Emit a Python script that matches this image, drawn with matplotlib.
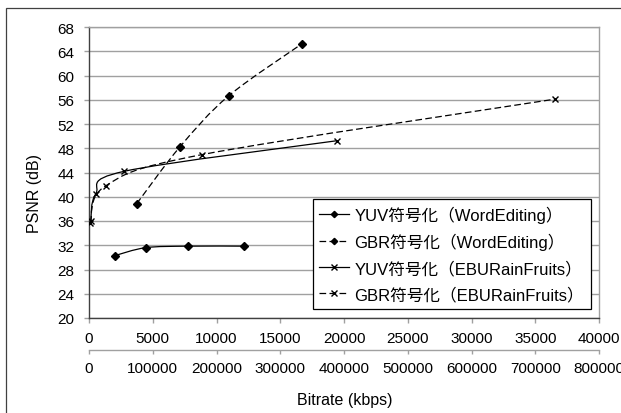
import matplotlib
matplotlib.use('Agg')
import matplotlib.pyplot as plt
from matplotlib.path import Path
from matplotlib.patches import PathPatch, Rectangle
from matplotlib.lines import Line2D
import numpy as np

plt.rcParams['font.family'] = ['Liberation Sans', 'Noto Sans CJK JP']
plt.rcParams['lines.scale_dashes'] = False

# WordEditing (lower bitrate axis, kbps)
word_yuv_rate = [2040, 4450, 7740, 12180]
word_yuv_psnr = [30.3, 31.6, 31.85, 31.85]
word_gbr_rate = [3740, 7140, 10960, 16680]
word_gbr_psnr = [38.85, 48.25, 56.65, 65.2]

# EBURainFruits (second bitrate axis, kbps)
ebu_yuv_rate = [2700, 10500, 55400, 389500]
ebu_yuv_psnr = [36.05, 40.45, 44.2, 49.25]
ebu_gbr_rate = [2350, 26200, 177300, 731000]
ebu_gbr_psnr = [35.75, 41.8, 46.95, 56.1]

labels = ['YUV符号化（WordEditing）', 'GBR符号化（WordEditing）',
          'YUV符号化（EBURainFruits）', 'GBR符号化（EBURainFruits）']

W, H = 621, 414
DASH = (0, (4.8, 2.4))


def smooth_path(xs, ys):
    # excel-like smoothed line: catmull-rom segments as cubic beziers
    p = np.column_stack([xs, ys]).astype(float)
    n = len(p)
    verts = [p[0]]
    codes = [Path.MOVETO]
    for i in range(n - 1):
        p0 = p[i - 1] if i > 0 else p[i]
        p3 = p[i + 2] if i + 2 < n else p[i + 1]
        c1 = p[i] + (p[i + 1] - p0) / 6.0
        c2 = p[i + 1] - (p3 - p[i]) / 6.0
        verts += [c1, c2, p[i + 1]]
        codes += [Path.CURVE4] * 3
    return Path(verts, codes)


def draw_series(ax, xs, ys, ls, marker, ms):
    ax.add_patch(PathPatch(smooth_path(xs, ys), fill=False, edgecolor='black',
                           lw=0.9, linestyle=ls, transform=ax.transData,
                           clip_on=True, zorder=3))
    ax.plot(xs, ys, linestyle='none', marker=marker, color='black',
            markersize=ms, markeredgewidth=1.0, zorder=4)


fig = plt.figure(figsize=(W / 100, H / 100), dpi=100)
left, right, top, bottom = 89, 599, 28, 319
ax = fig.add_axes([left / W, 1 - bottom / H, (right - left) / W, (bottom - top) / H])

# outer chart frame
fig.patches.append(Rectangle((6 / W, -0.2), 1.5, 1 - 9 / H + 0.2, fill=False,
                             edgecolor='#404040', lw=0.9,
                             transform=fig.transFigure, figure=fig))

ax.set_xlim(0, 40000)
ax.set_ylim(20, 68)
ax.set_xticks(np.arange(0, 40001, 5000))
ax.set_yticks(np.arange(20, 69, 4))
ax.grid(axis='y', color='#a0a0a0', lw=1.0)
ax.set_axisbelow(True)
for s in ['top', 'right']:
    ax.spines[s].set_color('#a0a0a0')
    ax.spines[s].set_linewidth(1.0)
for s in ['left', 'bottom']:
    ax.spines[s].set_color('#404040')
    ax.spines[s].set_linewidth(1.0)
ax.tick_params(axis='both', direction='out', length=3.6, width=1.0,
               color='#a0a0a0', labelsize=11)
ax.tick_params(axis='x', pad=5.8)
ax.tick_params(axis='y', pad=7)

ax2 = ax.twiny()
ax2.set_xlim(0, 800000)
ax2.set_xticks(np.arange(0, 800001, 100000))
ax2.xaxis.set_ticks_position('bottom')
ax2.xaxis.set_label_position('bottom')
ax2.spines['bottom'].set_position(('outward', 32 * 72 / 100))
for s in ['top', 'right', 'left']:
    ax2.spines[s].set_visible(False)
ax2.spines['bottom'].set_color('#a0a0a0')
ax2.spines['bottom'].set_linewidth(1.0)
ax2.patch.set_visible(False)
ax2.tick_params(axis='x', direction='out', length=3.2, width=1.0,
                color='#a0a0a0', labelsize=11, pad=5)

draw_series(ax, word_yuv_rate, word_yuv_psnr, '-', 'D', 4.0)
draw_series(ax, word_gbr_rate, word_gbr_psnr, DASH, 'D', 4.0)
draw_series(ax2, ebu_yuv_rate, ebu_yuv_psnr, '-', 'x', 5)
draw_series(ax2, ebu_gbr_rate, ebu_gbr_psnr, DASH, 'x', 5)

fig.text(34 / W, 1 - 193.5 / H, 'PSNR (dB)', rotation=90, fontsize=11.5,
         ha='center', va='center')
fig.text(345 / W, 1 - 401 / H, 'Bitrate (kbps)', fontsize=11.5,
         ha='center', va='center')

handles = [
    Line2D([], [], color='black', lw=0.9, ls='-', marker='D', markersize=3.2),
    Line2D([], [], color='black', lw=0.9, ls=DASH, marker='D', markersize=3.2),
    Line2D([], [], color='black', lw=0.9, ls='-', marker='x', markersize=4.2),
    Line2D([], [], color='black', lw=0.9, ls=DASH, marker='x', markersize=4.2),
]
leg = fig.legend(handles, labels, loc='upper left',
                 bbox_to_anchor=(312.7 / W, 1 - 200 / H),
                 bbox_transform=fig.transFigure, borderaxespad=0,
                 fontsize=12, handlelength=1.8, handletextpad=0.3,
                 labelspacing=0.6, borderpad=0.4, fancybox=False,
                 framealpha=1, edgecolor='black', numpoints=1)
leg.get_frame().set_linewidth(0.9)

fig.savefig('out.png', dpi=100)
